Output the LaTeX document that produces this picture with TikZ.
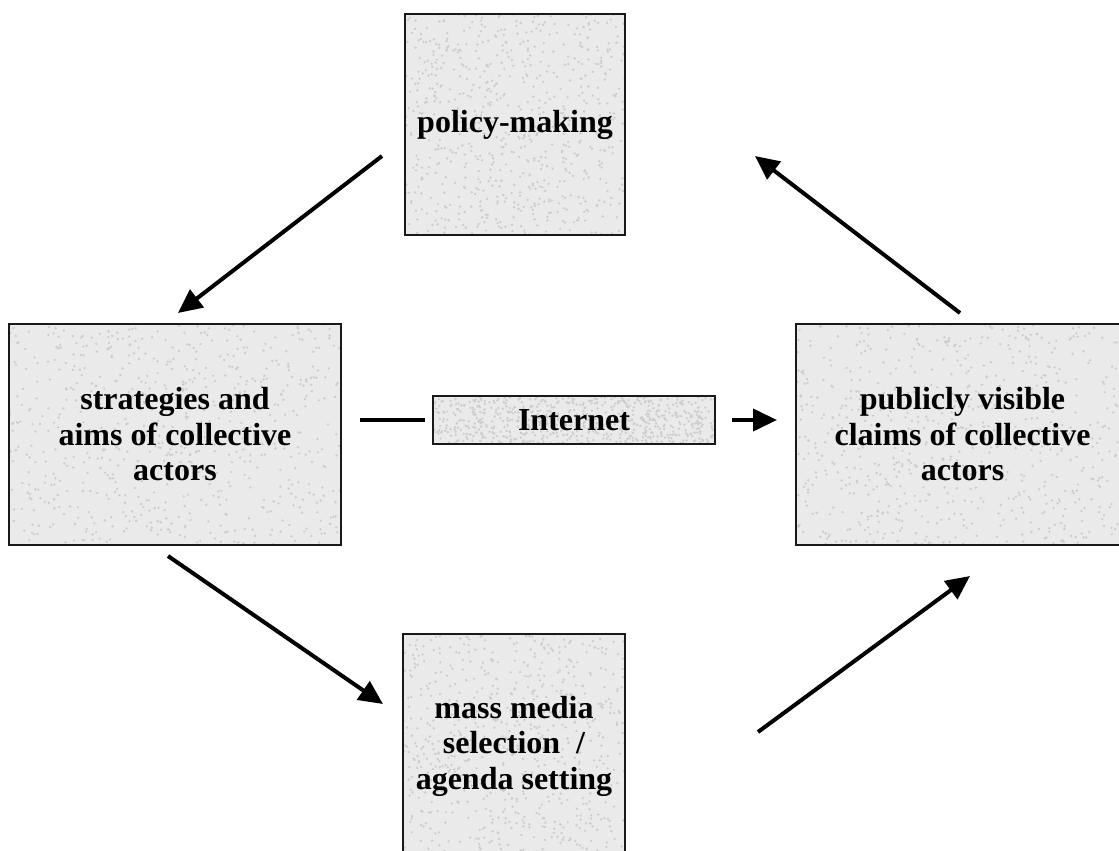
\documentclass[tikz,border=0pt]{standalone}
\usepackage{fontspec}
\setmainfont{Liberation Serif}
\usetikzlibrary{arrows.meta,calc}
\definecolor{boxfill}{RGB}{234,234,234}
\definecolor{speckc}{RGB}{205,205,205}
\definecolor{boxline}{RGB}{25,25,25}
\tikzset{
  box/.style={draw=boxline, line width=2.8pt, fill=boxfill, inner sep=0pt,
    align=center, font=\fontsize{32}{35.5}\selectfont\bfseries,
    path picture={
      \foreach \k in {1,...,700}{
        \fill[speckc] ($(path picture bounding box.south west)!rnd!(path picture bounding box.south east)
          + (path picture bounding box.south west)!rnd!(path picture bounding box.north west)
          - (path picture bounding box.south west)$) circle (1.3);
      }
    }},
  conn/.style={line width=4pt, -{Triangle[length=24pt,width=22pt]}},
  link/.style={line width=3.5pt},
}
\begin{document}
\begin{tikzpicture}[x=1pt,y=-1pt]
\useasboundingbox (0,0) rectangle (1119,851);
\clip (0,0) rectangle (1119,851);
\pgfmathsetseed{7}
\node[box, minimum width=220pt, minimum height=221pt] (policy) at (515,124.5) {policy-making};
\node[box, minimum width=332pt, minimum height=221pt] (strat) at (175,434.5) {strategies and\\aims of collective\\actors};
\node[box, minimum width=333pt, minimum height=221pt] (claims) at (962.5,434.5) {publicly visible\\claims of collective\\actors};
\node[box, minimum width=222pt, minimum height=224pt] (media) at (514,746) {mass media\\selection~~/\\agenda setting};
\node[box, minimum width=282pt, minimum height=48pt] (net) at (574,420) {Internet};

\coordinate (a1s) at (382,156);
\coordinate (a1e) at (178,313);
\coordinate (a2s) at (960,313);
\coordinate (a2e) at (755,156);
\coordinate (a3s) at (168,556);
\coordinate (a3e) at (383,704);
\coordinate (a4s) at (758,732);
\coordinate (a4e) at (970,576);
\coordinate (l1s) at (360,420);
\coordinate (l1e) at (425,420);
\coordinate (l2s) at (732,420);
\coordinate (l2e) at (777,420);

\draw[conn] (a1s) -- (a1e);
\draw[conn] (a2s) -- (a2e);
\draw[conn] (a3s) -- (a3e);
\draw[conn] (a4s) -- (a4e);
\draw[link] (l1s) -- (l1e);
\draw[conn] (l2s) -- (l2e);
\end{tikzpicture}
\end{document}
